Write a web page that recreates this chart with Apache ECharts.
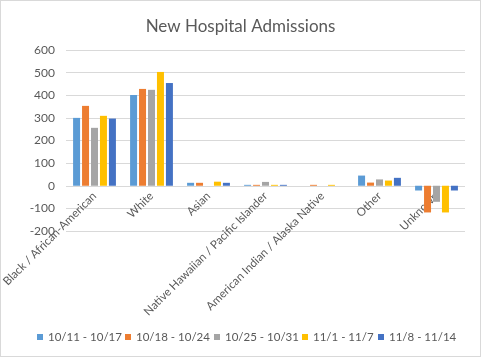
<!DOCTYPE html>
<html><head><meta charset="utf-8">
<script src="https://cdn.jsdelivr.net/npm/echarts@6/dist/echarts.min.js"></script>
<style>
html,body{margin:0;padding:0;background:#fff;}
#c{position:absolute;left:0;top:0;width:479px;height:355px;border:1px solid #d9d9d9;}
</style></head><body>
<div id="c"></div>
<script>
const categories = ['Black / African-American','White','Asian','Native Hawaiian / Pacific Islander','American Indian / Alaska Native','Other','Unknown'];
const seriesNames = ['10/11 - 10/17','10/18 - 10/24','10/25 - 10/31','11/1 - 11/7','11/8 - 11/14'];
const week1 = [300, 401, 13, 4, 0, 45, -21];
const week2 = [353, 428, 13, 4, 4, 14, -118];
const week3 = [256, 424, 0, 17, 0, 28, -71];
const week4 = [309, 503, 18, 4, 4, 23, -118];
const week5 = [297, 454, 13, 4, 0, 35, -21];
const colors = ['#5B9BD5','#ED7D31','#A5A5A5','#FFC000','#4472C4'];
const font = 'Lato, "Open Sans", sans-serif';
const data = [week1, week2, week3, week4, week5];
const legendLefts = [36, 124, 213, 301, 377];
const chart = echarts.init(document.getElementById('c'));
chart.setOption({
  animation:false,
  title:{text:'New Hospital Admissions',left:'center',top:12,textStyle:{fontFamily:font,fontSize:17,fontWeight:'normal',color:'#595959'}},
  legend: seriesNames.map((n,i)=>({data:[n],left:legendLefts[i],top:330,itemWidth:6,itemHeight:6,itemGap:0,icon:'rect',padding:0,
    textStyle:{fontFamily:font,fontSize:11.5,color:'#595959'}})),
  grid:{left:65,right:15,top:49,bottom:125,containLabel:false,outerBoundsMode:'none'},
  xAxis:{type:'category',data:categories,axisTick:{show:false},offset:-45,
    axisLine:{show:false},
    axisLabel:{rotate:45,interval:0,fontFamily:font,fontSize:11.5,color:'#595959',margin:8}},
  yAxis:{type:'value',min:-200,max:600,interval:100,axisLine:{show:false},axisTick:{show:false},
    axisLabel:{fontFamily:font,fontSize:12,color:'#595959',margin:11},
    splitLine:{lineStyle:{color:'#d9d9d9',width:1}}},
  series: seriesNames.map((n,i)=>({name:n,type:'bar',data:data[i],barWidth:7,barGap:'28%',itemStyle:{color:colors[i]}}))
});
</script></body></html>
